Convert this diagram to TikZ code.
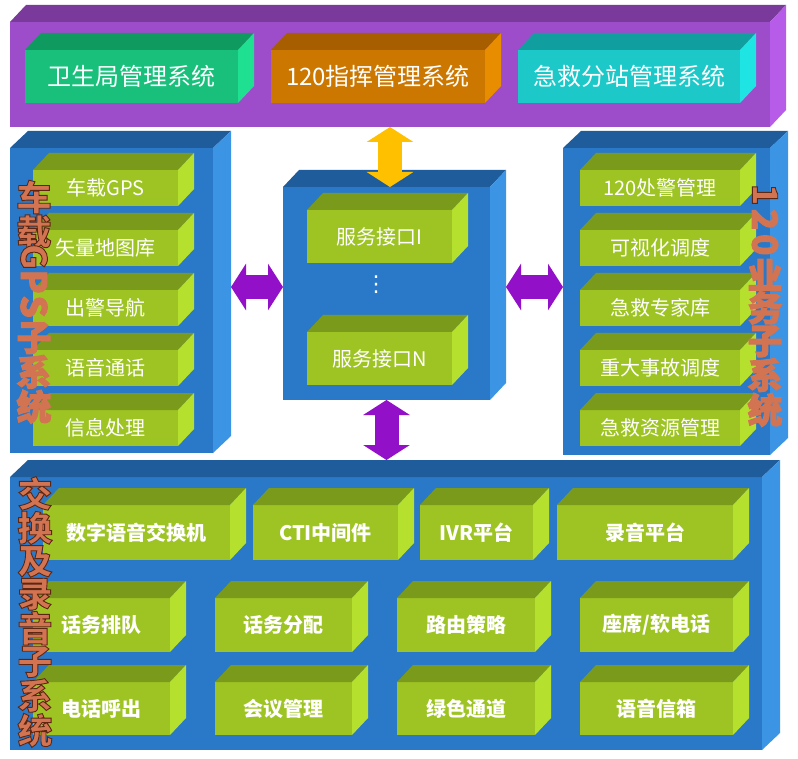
\documentclass[tikz,border=0pt]{standalone}
\usepackage{fontspec}
\usepackage{graphicx}
\setmainfont{Noto Sans CJK SC}
\newfontfamily\dejavu{DejaVu Sans}
\usetikzlibrary{arrows.meta}
\definecolor{puF}{HTML}{9E4DCA}\definecolor{puT}{HTML}{7A3A9C}\definecolor{puS}{HTML}{B65CE8}
\definecolor{blF}{HTML}{2A79C9}\definecolor{blT}{HTML}{1F5C9C}\definecolor{blS}{HTML}{3C94E4}
\definecolor{lgF}{HTML}{9DC423}\definecolor{lgT}{HTML}{7A9A1C}\definecolor{lgS}{HTML}{B6E02E}
\definecolor{gnF}{HTML}{19C07B}\definecolor{gnT}{HTML}{0F9A60}\definecolor{gnS}{HTML}{1EE090}
\definecolor{orF}{HTML}{CC7700}\definecolor{orT}{HTML}{A65E00}\definecolor{orS}{HTML}{E88C00}
\definecolor{cyF}{HTML}{1CC8C8}\definecolor{cyT}{HTML}{119E9E}\definecolor{cyS}{HTML}{1EE4E4}
\definecolor{yarr}{HTML}{FFC000}\definecolor{parr}{HTML}{9210C8}
\definecolor{lbl}{HTML}{D27452}
\newcommand{\dx}{16}\newcommand{\dy}{17}
% #1 node options, #2 colour scheme, #3 name, #4 x1, #5 y1, #6 x2, #7 y2, #8 text
\newcommand{\cube}[8][]{%
  \node[fill=#2F, text=white, inner sep=0pt, outer sep=0pt, anchor=north west,
        minimum width={(#6-#4)*1pt}, minimum height={(#7-#5)*1pt}, #1] (#3) at (#4,#5) {#8};
  \fill[#2T] (#3.north west) -- ++(\dx,-\dy) -- ([shift={(\dx,-\dy)}]#3.north east) -- (#3.north east) -- cycle;
  \fill[#2S] (#3.north east) -- ++(\dx,-\dy) -- ([shift={(\dx,-\dy)}]#3.south east) -- (#3.south east) -- cycle;
}
\newcommand{\outl}[1]{\special{pdf:code 2 Tr 0.9 w 0.36 0.15 0.07 RG}#1\special{pdf:code 0 Tr}}
\tikzset{
  topfont/.style={font=\fontsize{24}{26}\selectfont},
  midfont/.style={font=\fontsize{20}{22}\selectfont},
  botfont/.style={font=\fontsize{20}{22}\selectfont\bfseries},
  vlabel/.style={text=lbl, align=center, inner sep=0pt, font=\fontsize{35}{31}\selectfont\bfseries},
  yarrow/.style={yarr, line width=24pt, {Triangle[width=46pt,length=15pt]}-{Triangle[width=46pt,length=15pt]}},
  parrow/.style={parr, line width=24pt, {Triangle[width=46pt,length=15pt]}-{Triangle[width=46pt,length=15pt]}},
}
\newcommand{\rc}[1]{\raisebox{0pt}[0.7em][0pt]{\rotatebox[origin=c]{-90}{#1}}}
\begin{document}
\begin{tikzpicture}[x=1pt,y=-1pt]
\useasboundingbox[fill=white] (0,0) rectangle (798,759);
% top panel
\cube{pu}{P}{10}{22}{770}{127}{}
\cube[topfont]{gn}{Y1}{25}{50}{238}{103}{卫生局管理系统}
\cube[topfont]{or}{Y2}{271}{50}{485}{103}{120指挥管理系统}
\cube[topfont]{cy}{Y3}{518}{50}{740}{103}{急救分站管理系统}
% left panel
\renewcommand{\dx}{18}
\cube{bl}{L}{10}{148}{213}{453}{}
\renewcommand{\dx}{16}
\cube[midfont]{lg}{L1}{33}{170}{178}{206}{车载GPS}
\cube[midfont]{lg}{L2}{33}{230}{178}{266}{矢量地图库}
\cube[midfont]{lg}{L3}{33}{290}{178}{326}{出警导航}
\cube[midfont]{lg}{L4}{33}{350}{178}{386}{语音通话}
\cube[midfont]{lg}{L5}{33}{410}{178}{446}{信息处理}
% center panel
\cube{bl}{C}{283}{187}{490}{400}{}
\cube[midfont]{lg}{C1}{307}{210}{452}{263}{服务接口I}
\cube[midfont]{lg}{C2}{307}{332}{452}{385}{服务接口N}
\node[text=white, inner sep=0pt, font=\fontsize{22}{24}\selectfont\dejavu] (dots) at (376,285) {⋮};
% right panel
\renewcommand{\dx}{18}
\cube{bl}{R}{563}{148}{770}{455}{}
\renewcommand{\dx}{16}
\cube[midfont]{lg}{R1}{580}{170}{740}{206}{120处警管理}
\cube[midfont]{lg}{R2}{580}{230}{740}{266}{可视化调度}
\cube[midfont]{lg}{R3}{580}{290}{740}{326}{急救专家库}
\cube[midfont]{lg}{R4}{580}{350}{740}{386}{重大事故调度}
\cube[midfont]{lg}{R5}{580}{410}{740}{446}{急救资源管理}
% bottom panel
\renewcommand{\dx}{18}
\cube{bl}{B}{10}{477}{762}{750}{}
\renewcommand{\dx}{16}
\cube[botfont]{lg}{B11}{43}{505}{230}{560}{数字语音交换机}
\cube[botfont]{lg}{B12}{253}{505}{398}{560}{CTI中间件}
\cube[botfont]{lg}{B13}{420}{505}{533}{560}{IVR平台}
\cube[botfont]{lg}{B14}{557}{505}{733}{560}{录音平台}
\cube[botfont]{lg}{B21}{33}{598}{170}{652}{话务排队}
\cube[botfont]{lg}{B22}{215}{598}{352}{652}{话务分配}
\cube[botfont]{lg}{B23}{397}{598}{535}{652}{路由策略}
\cube[botfont]{lg}{B24}{580}{598}{733}{652}{座席/软电话}
\cube[botfont]{lg}{B31}{33}{682}{170}{735}{电话呼出}
\cube[botfont]{lg}{B32}{215}{682}{352}{735}{会议管理}
\cube[botfont]{lg}{B33}{397}{682}{535}{735}{绿色通道}
\cube[botfont]{lg}{B34}{580}{682}{733}{735}{语音信箱}
% vertical labels
\node[vlabel] (labL) at (34,302) {\outl{车\\载\\[-6pt]\rc{G}\\[-6pt]\rc{P}\\[-6pt]\rc{S}\\子\\系\\统}};
\node[vlabel] (labR) at (765,305) {\outl{\rc{1}\\[-6pt]\rc{2}\\[-6pt]\rc{0}\\业\\务\\子\\系\\统}};
\node[vlabel] (labB) at (35,612) {\outl{交\\换\\及\\录\\音\\子\\系\\统}};
% arrows
\coordinate (ay) at (0,287);
\coordinate (Lside) at ([xshift=18pt]L.east);
\coordinate (Cside) at ([xshift=16pt]C.east);
\coordinate (Btop) at ([yshift=17pt]B.north);
\draw[yarrow] (P.south) -- (P.south |- C.north);
\draw[parrow] (Lside |- ay) -- (C.west |- ay);
\draw[parrow] (Cside |- ay) -- (R.west |- ay);
\draw[parrow] (C.south) -- (C.south |- Btop);
\end{tikzpicture}
\end{document}
